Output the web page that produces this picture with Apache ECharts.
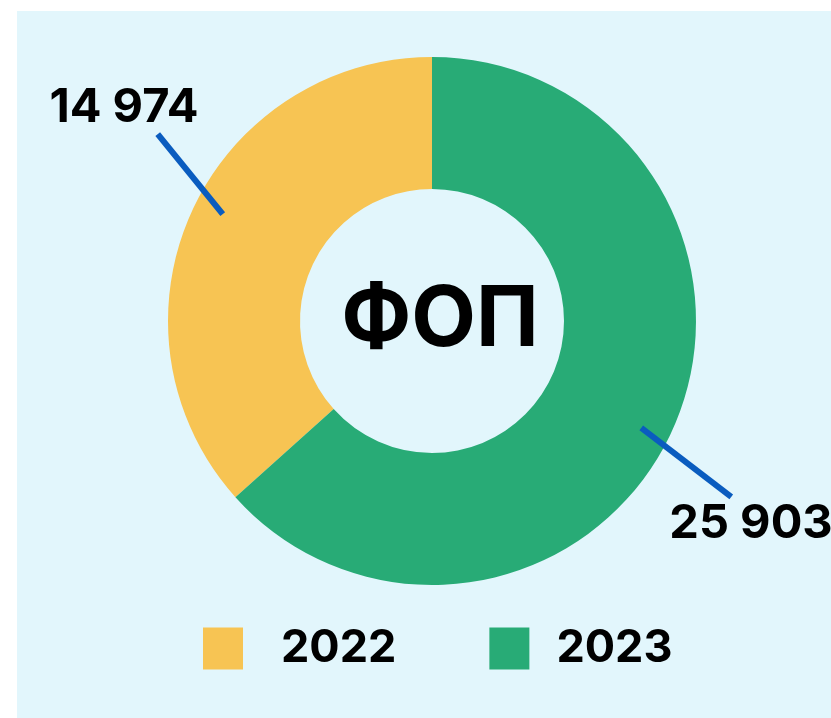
<!DOCTYPE html>
<html>
<head>
<meta charset="utf-8">
<script src="https://cdn.jsdelivr.net/npm/echarts@6/dist/echarts.min.js"></script>
<style>
    html, body { margin: 0; padding: 0; background: #fff; }
    #chart { width: 831px; height: 718px; }
</style>
</head>
<body>
<div id="chart"></div>
<script>
    // дані
    var years = ['2022', '2023'];
    var values = [14974, 25903];
    var colors = ['#f7c453', '#28ab76'];
    var centerTitle = 'ФОП';

    var fmt = function (v) {
        return String(v).replace(/\B(?=(\d{3})+(?!\d))/g, ' ');
    };

    var pieData = years.map(function (y, i) {
        return { name: y, value: values[i], itemStyle: { color: colors[i] } };
    });
    var guideData = years.map(function (y, i) {
        return { name: y, value: values[i] };
    });

    // зсув кінця лінії відносно початку (ліва / права сторона)
    var lineEnd = [[-65, -81], [90, 70]];
    // позиції підписів
    var labelPos = [[124, 108], [751, 524]];
    // відступ тексту легенди
    var legendPad = [33, 22];

    var myChart = echarts.init(document.getElementById('chart'));
    myChart.setOption({
        animation: false,
        graphic: [{
            type: 'rect',
            z: -10,
            shape: { x: 17, y: 11, width: 814, height: 707 },
            style: { fill: '#e2f6fc' }
        }],
        title: {
            text: centerTitle,
            left: 435,
            top: 316,
            textAlign: 'center',
            textVerticalAlign: 'middle',
            textStyle: {
                fontFamily: 'Inter',
                fontWeight: 'bold',
                fontSize: 84,
                color: '#000'
            }
        },
        legend: {
            data: years.map(function (y, i) {
                return { name: y, textStyle: { padding: [0, 0, 0, legendPad[i]] } };
            }),
            left: 203,
            top: 626,
            padding: 0,
            icon: 'rect',
            itemWidth: 40,
            itemHeight: 42,
            itemGap: 93,
            selectedMode: false,
            textStyle: {
                fontFamily: 'Inter',
                fontWeight: 'bold',
                fontSize: 45,
                color: '#000'
            }
        },
        series: [
            {
                type: 'pie',
                center: [432, 321],
                radius: [132, 264],
                startAngle: 90,
                clockwise: false,
                silent: true,
                data: pieData,
                label: {
                    show: true,
                    position: 'outside',
                    width: 240,
                    align: 'center',
                    formatter: function (p) { return fmt(p.value); },
                    fontFamily: 'Inter',
                    fontWeight: 'bold',
                    fontSize: 47,
                    color: '#000'
                },
                labelLine: { show: false },
                labelLayout: function (p) {
                    var pos = labelPos[p.dataIndex];
                    return { x: pos[0], y: pos[1], align: 'center', verticalAlign: 'middle' };
                }
            },
            {
                // невидимий пиріг лише для ліній-виносок
                type: 'pie',
                z: 5,
                center: [432, 321],
                radius: [0, 235],
                startAngle: 87,
                clockwise: false,
                silent: true,
                data: guideData,
                itemStyle: { color: 'rgba(0,0,0,0)' },
                label: {
                    show: true,
                    position: 'outside',
                    formatter: function () { return ' '; },
                    fontSize: 2
                },
                labelLine: {
                    show: true,
                    length: 10,
                    length2: 0,
                    lineStyle: { color: '#0a5cbf', width: 6 }
                },
                labelLayout: function (p) {
                    var a = p.labelLinePoints[0];
                    var d = lineEnd[p.dataIndex];
                    return { x: a[0] + d[0], y: a[1] + d[1], align: 'center', verticalAlign: 'middle' };
                }
            }
        ]
    });
</script>
</body>
</html>
